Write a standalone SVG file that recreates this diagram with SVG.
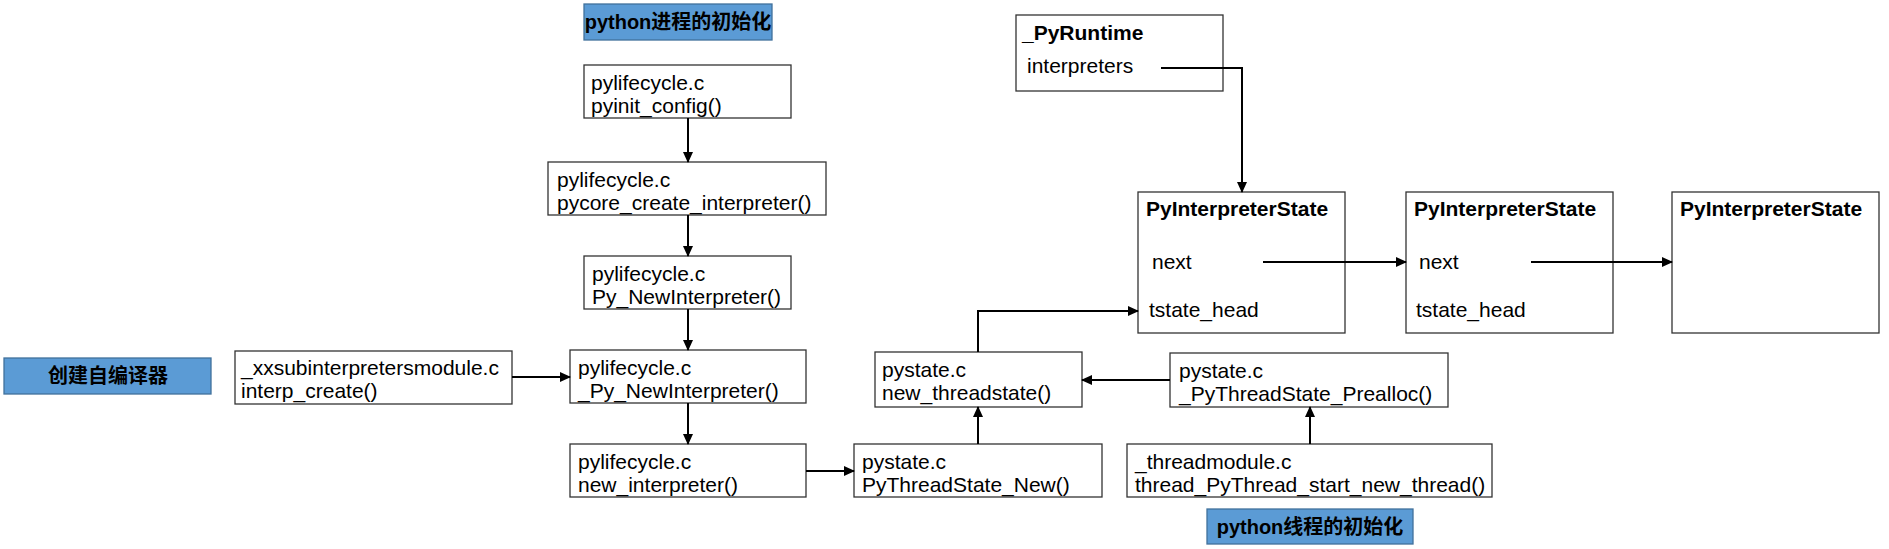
<svg xmlns="http://www.w3.org/2000/svg" width="1889" height="549" viewBox="0 0 1889 549">
<style>
text{font-family:"Liberation Sans","Noto Sans CJK SC",sans-serif;font-size:21px;fill:#000}
.b{font-weight:bold}
.t{font-weight:bold;font-size:20px}
.box{fill:#fff;stroke:#333;stroke-width:1.3}
.blue{fill:#5B9BD5;stroke:#41719C;stroke-width:1.3}
.c{fill:none;stroke:#000;stroke-width:2}
</style>
<defs>
<marker id="ah" markerUnits="userSpaceOnUse" markerWidth="11" markerHeight="10" refX="10" refY="5" orient="auto">
<path d="M0,0 L11,5 L0,10 z" fill="#000"/>
</marker>
</defs>
<rect width="1889" height="549" fill="#fff"/>

<g id="title-process">
<rect class="blue" x="584" y="4" width="188" height="36"/>
<text class="t" x="678" y="29" text-anchor="middle">python进程的初始化</text>
</g>
<g id="title-subinterp">
<rect class="blue" x="4" y="358" width="207" height="36"/>
<text class="t" x="108" y="383" text-anchor="middle">创建自编译器</text>
</g>
<g id="title-thread">
<rect class="blue" x="1207" y="509" width="206" height="35"/>
<text class="t" x="1310" y="534" text-anchor="middle">python线程的初始化</text>
</g>

<g id="pyinit_config">
<rect class="box" x="584" y="65" width="207" height="53"/>
<text x="591" y="90">pylifecycle.c</text>
<text x="591" y="113">pyinit_config()</text>
</g>
<g id="pycore_create_interpreter">
<rect class="box" x="548" y="162" width="278" height="53"/>
<text x="557" y="187">pylifecycle.c</text>
<text x="557" y="210">pycore_create_interpreter()</text>
</g>
<g id="Py_NewInterpreter">
<rect class="box" x="584" y="256" width="207" height="53"/>
<text x="592" y="281">pylifecycle.c</text>
<text x="592" y="304">Py_NewInterpreter()</text>
</g>
<g id="_Py_NewInterpreter">
<rect class="box" x="570" y="350" width="236" height="53"/>
<text x="578" y="375">pylifecycle.c</text>
<text x="578" y="398">_Py_NewInterpreter()</text>
</g>
<g id="new_interpreter">
<rect class="box" x="570" y="444" width="236" height="53"/>
<text x="578" y="469">pylifecycle.c</text>
<text x="578" y="492">new_interpreter()</text>
</g>
<g id="interp_create">
<rect class="box" x="235" y="351" width="277" height="53"/>
<text x="241" y="375">_xxsubinterpretersmodule.c</text>
<text x="241" y="398">interp_create()</text>
</g>
<g id="PyThreadState_New">
<rect class="box" x="854" y="444" width="248" height="53"/>
<text x="862" y="469">pystate.c</text>
<text x="862" y="492">PyThreadState_New()</text>
</g>
<g id="new_threadstate">
<rect class="box" x="875" y="352" width="207" height="55"/>
<text x="882" y="377">pystate.c</text>
<text x="882" y="400">new_threadstate()</text>
</g>
<g id="_PyThreadState_Prealloc">
<rect class="box" x="1170" y="353" width="278" height="54"/>
<text x="1179" y="378">pystate.c</text>
<text x="1179" y="401">_PyThreadState_Prealloc()</text>
</g>
<g id="thread_start_new_thread">
<rect class="box" x="1127" y="444" width="365" height="53"/>
<text x="1135" y="469">_threadmodule.c</text>
<text x="1135" y="492">thread_PyThread_start_new_thread()</text>
</g>
<g id="_PyRuntime">
<rect class="box" x="1016" y="15" width="207" height="76"/>
<text class="b" x="1022" y="40">_PyRuntime</text>
<text x="1027" y="73">interpreters</text>
</g>
<g id="PyInterpreterState1">
<rect class="box" x="1138" y="192" width="207" height="141"/>
<text class="b" x="1146" y="216">PyInterpreterState</text>
<text x="1152" y="269">next</text>
<text x="1149" y="317">tstate_head</text>
</g>
<g id="PyInterpreterState2">
<rect class="box" x="1406" y="192" width="207" height="141"/>
<text class="b" x="1414" y="216">PyInterpreterState</text>
<text x="1419" y="269">next</text>
<text x="1416" y="317">tstate_head</text>
</g>
<g id="PyInterpreterState3">
<rect class="box" x="1672" y="192" width="207" height="141"/>
<text class="b" x="1680" y="216">PyInterpreterState</text>
</g>

<g id="connectors">
<path class="c" d="M688,118 V162" marker-end="url(#ah)"/>
<path class="c" d="M688,215 V256" marker-end="url(#ah)"/>
<path class="c" d="M688,309 V350" marker-end="url(#ah)"/>
<path class="c" d="M512,377 H570" marker-end="url(#ah)"/>
<path class="c" d="M688,403 V444" marker-end="url(#ah)"/>
<path class="c" d="M806,471 H854" marker-end="url(#ah)"/>
<path class="c" d="M978,444 V407" marker-end="url(#ah)"/>
<path class="c" d="M1170,380 H1082" marker-end="url(#ah)"/>
<path class="c" d="M1310,444 V407" marker-end="url(#ah)"/>
<path class="c" d="M978,352 V311 H1138" marker-end="url(#ah)"/>
<path class="c" d="M1161,68 H1242 V192" marker-end="url(#ah)"/>
<path class="c" d="M1263,262 H1406" marker-end="url(#ah)"/>
<path class="c" d="M1531,262 H1672" marker-end="url(#ah)"/>
</g>
</svg>
